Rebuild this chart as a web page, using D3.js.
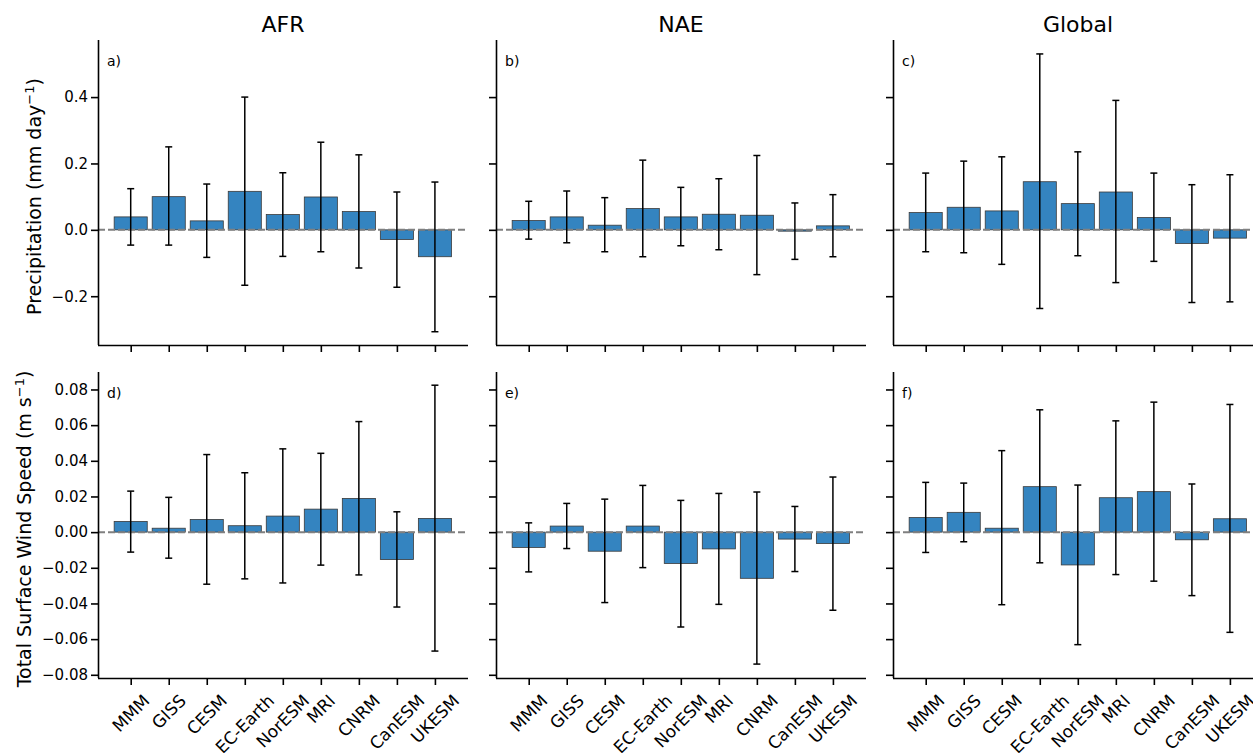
<!DOCTYPE html>
<html>
<head>
<meta charset="utf-8">
<script src="https://cdn.jsdelivr.net/npm/d3@7"></script>
<style>
  body { margin: 0; background: #fff; }
  text { font-family: "DejaVu Sans", sans-serif; fill: #000; }
</style>
</head>
<body>
<div id="chart-area"></div>
<script>
var models = ["MMM", "GISS", "CESM", "EC-Earth", "NorESM", "MRI", "CNRM", "CanESM", "UKESM"];
var regions = ["AFR", "NAE", "Global"];
var letters = ["a)", "b)", "c)", "d)", "e)", "f)"];

// precipitation (mm day-1): mean, upper and lower error bar ends
var prAFR = [0.039, 0.100, 0.027, 0.116, 0.046, 0.099, 0.055, -0.029, -0.081];
var prAFRHi = [0.124, 0.250, 0.138, 0.400, 0.172, 0.264, 0.226, 0.114, 0.144];
var prAFRLo = [-0.046, -0.046, -0.083, -0.167, -0.080, -0.066, -0.115, -0.173, -0.307];

var prNAE = [0.028, 0.039, 0.014, 0.064, 0.039, 0.047, 0.044, -0.004, 0.012];
var prNAEHi = [0.086, 0.117, 0.097, 0.210, 0.128, 0.154, 0.224, 0.081, 0.106];
var prNAELo = [-0.028, -0.039, -0.066, -0.081, -0.048, -0.060, -0.135, -0.089, -0.081];

var prGlobal = [0.052, 0.068, 0.057, 0.145, 0.079, 0.114, 0.037, -0.041, -0.025];
var prGlobalHi = [0.171, 0.207, 0.220, 0.530, 0.235, 0.390, 0.171, 0.136, 0.166];
var prGlobalLo = [-0.066, -0.069, -0.104, -0.237, -0.078, -0.159, -0.095, -0.219, -0.217];

// total surface wind speed (m s-1)
var wsAFR = [0.0060, 0.0022, 0.0071, 0.0036, 0.0090, 0.0129, 0.0189, -0.0154, 0.0077];
var wsAFRHi = [0.0230, 0.0195, 0.0435, 0.0333, 0.0467, 0.0442, 0.0620, 0.0114, 0.0824];
var wsAFRLo = [-0.0112, -0.0146, -0.0292, -0.0262, -0.0285, -0.0185, -0.0240, -0.0420, -0.0667];

var wsNAE = [-0.0086, 0.0034, -0.0107, 0.0034, -0.0176, -0.0094, -0.0259, -0.0039, -0.0064];
var wsNAEHi = [0.0052, 0.0161, 0.0185, 0.0262, 0.0178, 0.0217, 0.0225, 0.0144, 0.0309];
var wsNAELo = [-0.0223, -0.0092, -0.0395, -0.0199, -0.0532, -0.0405, -0.0740, -0.0221, -0.0438];

var wsGlobal = [0.0082, 0.0111, 0.0022, 0.0255, -0.0184, 0.0193, 0.0227, -0.0043, 0.0075];
var wsGlobalHi = [0.0279, 0.0275, 0.0457, 0.0686, 0.0264, 0.0624, 0.0729, 0.0270, 0.0716];
var wsGlobalLo = [-0.0114, -0.0054, -0.0407, -0.0172, -0.0631, -0.0238, -0.0275, -0.0356, -0.0562];

var prTicks = [-0.2, 0.0, 0.2, 0.4];
var wsTicks = [-0.08, -0.06, -0.04, -0.02, 0.00, 0.02, 0.04, 0.06, 0.08];

var rows = [
  { label: "Precipitation (mm day", domain: [-0.347, 0.572], ticks: prTicks, fmt: d3.format(".1f"),
    top: 40, bottom: 345, labelX: 41,
    sets: [[prAFR, prAFRHi, prAFRLo], [prNAE, prNAEHi, prNAELo], [prGlobal, prGlobalHi, prGlobalLo]] },
  { label: "Total Surface Wind Speed (m s", domain: [-0.0818, 0.0898], ticks: wsTicks, fmt: d3.format(".2f"),
    top: 372, bottom: 678, labelX: 31,
    sets: [[wsAFR, wsAFRHi, wsAFRLo], [wsNAE, wsNAEHi, wsNAELo], [wsGlobal, wsGlobalHi, wsGlobalLo]] }
];

var panelLeft = [98, 496, 893];
var panelWidth = 370;
var barColor = "#3484c0";
var fs = 15;
var xfs = 17;

var svg = d3.select("#chart-area")
  .append("svg")
  .attr("width", 1253)
  .attr("height", 753);

var x = d3.scaleLinear()
  .domain([-0.86, 8.87])
  .range([0, panelWidth]);
var barW = x(0.87) - x(0);

function minusFmt(fmt) {
  return function(d) { return fmt(d).replace("-", "\u2212"); };
}

rows.forEach(function(row, r) {
  var y = d3.scaleLinear()
    .domain(row.domain)
    .range([row.bottom - row.top, 0]);

  row.sets.forEach(function(set, c) {
    var vals = set[0], hi = set[1], lo = set[2];
    var g = svg.append("g")
      .attr("transform", "translate(" + panelLeft[c] + ", " + row.top + ")");

    // bars
    g.selectAll("rect.bar")
      .data(vals)
      .enter().append("rect")
      .attr("class", "bar")
      .attr("x", function(d, i){ return x(i) - barW / 2; })
      .attr("y", function(d){ return y(Math.max(0, d)); })
      .attr("width", barW)
      .attr("height", function(d){ return Math.abs(y(d) - y(0)); })
      .attr("fill", barColor)
      .attr("stroke", "#3a3a3a")
      .attr("stroke-width", 0.8);

    // zero line
    g.append("line")
      .attr("x1", 0).attr("x2", panelWidth)
      .attr("y1", y(0)).attr("y2", y(0))
      .attr("stroke", "#808080")
      .attr("stroke-width", 2)
      .attr("stroke-dasharray", "7,3");

    // error bars
    var eb = g.selectAll("g.err")
      .data(vals)
      .enter().append("g")
      .attr("class", "err");
    eb.append("line")
      .attr("x1", function(d, i){ return x(i); })
      .attr("x2", function(d, i){ return x(i); })
      .attr("y1", function(d, i){ return y(hi[i]); })
      .attr("y2", function(d, i){ return y(lo[i]); })
      .attr("stroke", "#000").attr("stroke-width", 1.5);
    [hi, lo].forEach(function(arr){
      eb.append("line")
        .attr("x1", function(d, i){ return x(i) - 3.5; })
        .attr("x2", function(d, i){ return x(i) + 3.5; })
        .attr("y1", function(d, i){ return y(arr[i]); })
        .attr("y2", function(d, i){ return y(arr[i]); })
        .attr("stroke", "#000").attr("stroke-width", 1.5);
    });

    // y axis
    var yAxisCall = d3.axisLeft(y)
      .tickValues(row.ticks)
      .tickSize(7)
      .tickPadding(3)
      .tickFormat(c === 0 ? minusFmt(row.fmt) : "");
    var yAxisGroup = g.append("g").call(yAxisCall);
    yAxisGroup.select(".domain").attr("d", "M0.5," + (row.bottom - row.top) + "V0");

    // x axis
    var xAxisCall = d3.axisBottom(x)
      .tickValues(d3.range(models.length))
      .tickSize(7)
      .tickFormat("");
    var xAxisGroup = g.append("g")
      .attr("transform", "translate(0, " + (row.bottom - row.top) + ")")
      .call(xAxisCall);
    xAxisGroup.select(".domain").attr("d", "M0," + 0.5 + "H" + panelWidth);

    [yAxisGroup, xAxisGroup].forEach(function(ax){
      ax.attr("font-size", fs).attr("font-family", "DejaVu Sans");
      ax.selectAll("path, line").attr("stroke", "#000").attr("stroke-width", 1.6);
      ax.selectAll("text").attr("fill", "#000");
    });

    // rotated model labels on bottom row
    if (r === 1) {
      models.forEach(function(m, i){
        var t = g.append("text")
          .attr("font-size", xfs)
          .attr("text-anchor", "middle")
          .attr("dominant-baseline", "central")
          .text(m);
        var L = t.node().getComputedTextLength();
        var cy = (row.bottom - row.top) + 13 + (L + xfs * 1.1) * Math.SQRT1_2 / 2;
        t.attr("transform", "translate(" + x(i) + ", " + cy + ") rotate(-45)");
      });
    }

    // panel letter
    g.append("text")
      .attr("x", 9)
      .attr("y", 26)
      .attr("font-size", 14)
      .text(letters[r * 3 + c]);

    // region title
    if (r === 0) {
      g.append("text")
        .attr("x", panelWidth / 2)
        .attr("y", -8)
        .attr("text-anchor", "middle")
        .attr("font-size", 22)
        .text(regions[c]);
    }
  });

  // y label
  var yl = svg.append("text")
    .attr("transform", "translate(" + row.labelX + ", " + ((row.top + row.bottom) / 2 + 4) + ") rotate(-90)")
    .attr("text-anchor", "middle")
    .attr("font-size", 19);
  yl.append("tspan").text(row.label);
  yl.append("tspan").attr("baseline-shift", "super").attr("font-size", 13).text("\u22121");
  yl.append("tspan").text(")");
});
</script>
</body>
</html>
